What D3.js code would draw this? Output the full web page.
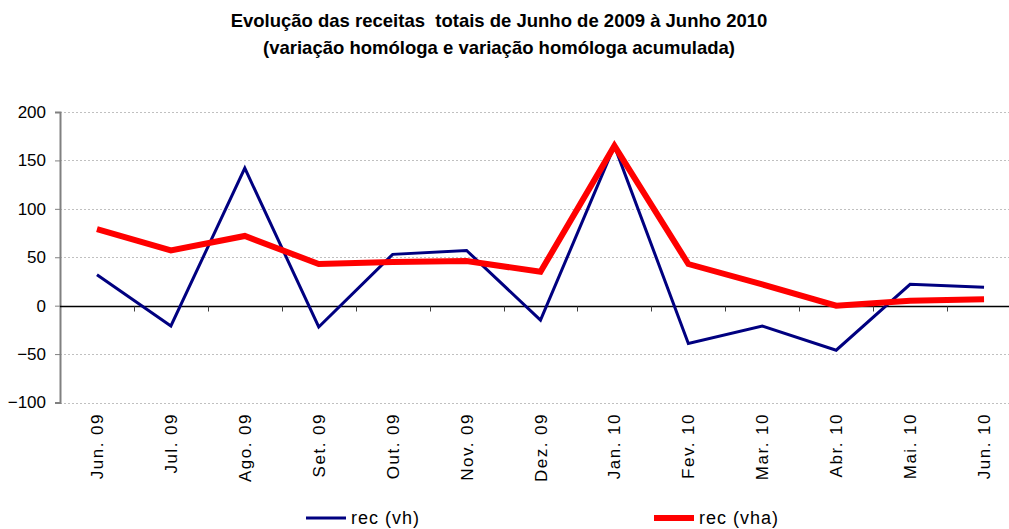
<!DOCTYPE html>
<html>
<head>
<meta charset="utf-8">
<script src="https://cdn.jsdelivr.net/npm/d3@7"></script>
<style>
  body { margin: 0; background: #fff; }
  svg { font-family: "Liberation Sans", Arial, sans-serif; }
</style>
</head>
<body>
<div id="chart"></div>
<script>
// Data
var months = ["Jun. 09", "Jul. 09", "Ago. 09", "Set. 09", "Out. 09", "Nov. 09", "Dez. 09",
  "Jan. 10", "Fev. 10", "Mar. 10", "Abr. 10", "Mai. 10", "Jun. 10"];
var recVh = [32, -21, 142, -22, 53, 57, -15, 165, -39, -21, -46, 22, 19];
var recVha = [79, 57, 72, 43, 45, 46, 35, 165, 43, 22, 0, 5, 6.5];
var yTicks = [-100, -50, 0, 50, 100, 150, 200];

var width = 1009, height = 529;
var margin = { top: 112, left: 60 };
var plotRight = 1021, plotBottom = 402.5;

var svg = d3.select("#chart")
  .append("svg")
  .attr("width", width)
  .attr("height", height);

// Title
var title = svg.append("text")
  .attr("text-anchor", "middle")
  .style("font-weight", "bold")
  .style("font-size", "18.5px")
  .style("white-space", "pre");
title.append("tspan").attr("x", 499).attr("y", 27)
  .text("Evolução das receitas  totais de Junho de 2009 à Junho 2010");
title.append("tspan").attr("x", 499).attr("y", 54)
  .text("(variação homóloga e variação homóloga acumulada)");

// Scales
var x = d3.scaleBand()
  .domain(months)
  .range([margin.left, plotRight]);

var y = d3.scaleLinear()
  .domain([-100, 200])
  .range([plotBottom, margin.top]);

// Grid lines
svg.append("g")
  .selectAll("line")
  .data(yTicks.filter(function(d) { return d !== 0; }))
  .enter().append("line")
  .attr("x1", margin.left)
  .attr("x2", width)
  .attr("y1", function(d) { return Math.round(y(d)) + 0.5; })
  .attr("y2", function(d) { return Math.round(y(d)) + 0.5; })
  .attr("stroke", "#c0c0c0")
  .attr("stroke-width", 1)
  .attr("stroke-dasharray", "2,2");

// Y axis
var yAxis = svg.append("g")
  .attr("transform", "translate(" + margin.left + ",0)")
  .call(d3.axisLeft(y).tickValues(yTicks).tickSize(5).tickPadding(9));
yAxis.select(".domain").attr("stroke", "#808080").attr("stroke-width", 2);
yAxis.selectAll(".tick line").attr("stroke", "#808080");
yAxis.selectAll("text")
  .style("font-size", "17px")
  .attr("fill", "#000");

// Zero line with category boundary ticks
var zeroY = Math.round(y(0)) + 0.5;
svg.append("line")
  .attr("x1", margin.left)
  .attr("x2", width)
  .attr("y1", zeroY)
  .attr("y2", zeroY)
  .attr("stroke", "#000")
  .attr("stroke-width", 1.5);

svg.append("g")
  .selectAll("line")
  .data(months.slice(1))
  .enter().append("line")
  .attr("x1", function(d) { return Math.round(x(d)) + 0.5; })
  .attr("x2", function(d) { return Math.round(x(d)) + 0.5; })
  .attr("y1", zeroY)
  .attr("y2", zeroY + 5)
  .attr("stroke", "#404040");

// X labels (rotated)
svg.append("g")
  .selectAll("text")
  .data(months)
  .enter().append("text")
  .attr("transform", function(d) {
    return "translate(" + (x(d) + x.bandwidth() / 2 + 6) + "," + 413 + ") rotate(-90)";
  })
  .attr("text-anchor", "end")
  .style("font-size", "17px")
  .style("letter-spacing", "1.5px")
  .text(function(d) { return d; });

// Lines
var line = function(values) {
  return d3.line()
    .x(function(d, i) { return x(months[i]) + x.bandwidth() / 2; })
    .y(function(d) { return y(d); })(values);
};

svg.append("path")
  .attr("d", line(recVh))
  .attr("fill", "none")
  .attr("stroke", "#000080")
  .attr("stroke-width", 3);

svg.append("path")
  .attr("d", line(recVha))
  .attr("fill", "none")
  .attr("stroke", "#ff0000")
  .attr("stroke-width", 6);

// Legend
var legend = [
  { name: "rec (vh)", color: "#000080", w: 3, x: 306 },
  { name: "rec (vha)", color: "#ff0000", w: 6, x: 654 }
];
var lg = svg.append("g")
  .selectAll("g")
  .data(legend)
  .enter().append("g")
  .attr("transform", function(d) { return "translate(" + d.x + ",518)"; });
lg.append("line")
  .attr("x1", 0).attr("x2", 40)
  .attr("stroke", function(d) { return d.color; })
  .attr("stroke-width", function(d) { return d.w; });
lg.append("text")
  .attr("x", 45)
  .attr("dy", "0.35em")
  .style("font-size", "18px")
  .style("letter-spacing", "1px")
  .text(function(d) { return d.name; });
</script>
</body>
</html>
